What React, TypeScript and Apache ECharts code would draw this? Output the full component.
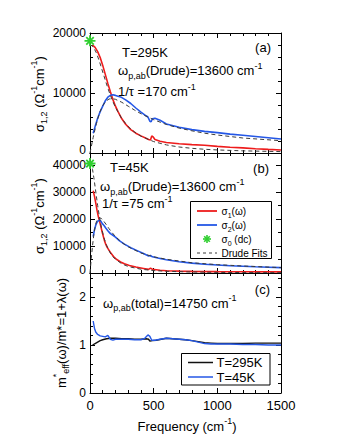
import React, { useEffect, useRef } from 'react';
import * as echarts from 'echarts';

const FONT = '"Liberation Sans", Arial, Helvetica, sans-serif';

// ---------- Panel (a): T = 295 K ----------
const aSig1Freq = [20, 40, 60, 80, 100, 120, 140, 160, 180, 200, 220, 250, 280, 320, 360, 400, 440, 460, 475, 485, 495, 510, 550, 600, 700, 800, 900, 1000, 1100, 1200, 1300, 1400, 1500];
const aSig1 = [18000, 17600, 16900, 15900, 14600, 13100, 11600, 10200, 8900, 7800, 6900, 5700, 4800, 3900, 3300, 2850, 2450, 2250, 2150, 2850, 2700, 2250, 1950, 1750, 1550, 1400, 1280, 1100, 950, 850, 720, 600, 500];
const aSig2Freq = [25, 40, 60, 80, 100, 120, 140, 160, 180, 200, 240, 280, 320, 360, 400, 440, 455, 470, 480, 490, 510, 550, 600, 700, 800, 900, 1000, 1100, 1200, 1300, 1400, 1500];
const aSig2 = [3300, 4400, 5800, 6900, 7800, 8700, 9300, 9600, 9700, 9600, 9350, 8850, 8250, 7500, 6800, 6200, 6000, 5300, 5200, 5700, 5800, 5450, 4850, 4300, 3900, 3600, 3400, 3150, 2950, 2750, 2550, 2330];
const aFitFreq = [0, 25, 50, 75, 100, 125, 150, 175, 200, 250, 300, 350, 400, 500, 600, 700, 800, 900, 1000, 1200, 1500];
const aFit1 = [18100, 17700, 16700, 15200, 13500, 11800, 10200, 8800, 7600, 5700, 4400, 3500, 2800, 1900, 1350, 1000, 780, 620, 510, 360, 230];
const aFit2 = [0, 2600, 4900, 6700, 7900, 8650, 9000, 9050, 8950, 8450, 7800, 7150, 6550, 5550, 4750, 4150, 3700, 3300, 3000, 2500, 2050];
const aDc = [[0, 18700]];

// ---------- Panel (b): T = 45 K ----------
const bSig1Freq = [25, 35, 45, 55, 65, 75, 85, 95, 105, 115, 125, 135, 150, 165, 185, 210, 240, 270, 310, 360, 420, 460, 475, 490, 550, 600, 700, 800, 1000, 1200, 1500];
const bSig1 = [30500, 28500, 26000, 23300, 21000, 19300, 17300, 15300, 13500, 11800, 10500, 9500, 8400, 7300, 6100, 5000, 4100, 3400, 2800, 2200, 1700, 1350, 1800, 1400, 1000, 850, 700, 600, 500, 450, 400];
const bSig2Freq = [25, 35, 45, 55, 65, 75, 85, 95, 110, 125, 140, 160, 180, 200, 230, 270, 320, 370, 420, 460, 475, 490, 550, 600, 700, 800, 900, 1000, 1100, 1200, 1300, 1400, 1500];
const bSig2 = [13500, 16000, 17700, 18800, 19400, 19600, 19200, 18400, 17600, 16600, 15700, 14600, 14000, 13300, 12000, 10700, 9400, 8300, 7200, 6300, 6500, 6000, 5400, 4900, 4200, 3650, 3250, 2950, 2700, 2500, 2300, 2150, 2000];
const bFitFreq = [0, 10, 20, 30, 40, 50, 60, 75, 90, 110, 130, 150, 175, 200, 250, 300, 400, 500, 600, 800, 1000, 1200, 1500];
const bFit1 = [41100, 40400, 38400, 35400, 32000, 28500, 25100, 20500, 16800, 13000, 10300, 8200, 6300, 5100, 3400, 2400, 1400, 900, 630, 360, 230, 160, 100];
const bFit2 = [0, 5400, 10200, 14200, 17100, 19000, 20000, 20500, 20200, 19100, 17800, 16400, 14900, 13500, 11300, 9700, 7400, 6000, 5100, 3800, 3100, 2600, 2000];
const bDc = [[0, 40600]];

// ---------- Panel (c): m*/m = 1 + lambda ----------
const c295Freq = [20, 40, 60, 80, 100, 130, 160, 200, 250, 300, 350, 400, 440, 460, 470, 490, 520, 560, 600, 650, 700, 750, 800, 850, 900, 950, 1000, 1100, 1200, 1300, 1400, 1500];
const c295 = [1.0, 1.03, 1.06, 1.09, 1.11, 1.13, 1.14, 1.14, 1.13, 1.13, 1.12, 1.12, 1.13, 1.12, 1.08, 1.09, 1.1, 1.12, 1.14, 1.13, 1.12, 1.11, 1.09, 1.07, 1.05, 1.04, 1.03, 1.03, 1.03, 1.04, 1.04, 1.04];
const c45Freq = [25, 35, 45, 60, 80, 100, 120, 140, 160, 180, 200, 250, 300, 350, 400, 430, 455, 470, 485, 510, 550, 600, 650, 700, 750, 800, 850, 900, 950, 1000, 1100, 1200, 1300, 1400, 1500];
const c45 = [1.5, 1.35, 1.27, 1.22, 1.19, 1.18, 1.17, 1.2, 1.12, 1.1, 1.12, 1.12, 1.12, 1.11, 1.11, 1.14, 1.21, 1.18, 1.1, 1.1, 1.12, 1.14, 1.13, 1.12, 1.11, 1.09, 1.06, 1.03, 1.02, 1.02, 1.02, 1.01, 1.01, 1.0, 1.0];

const RED = '#ee1c1c';
const BLUE = '#2457e6';
const GREEN = '#2fcf2f';
const DASH = '#3a3a3a';

const pairs = (xs: number[], ys: number[]) => xs.map((x, i) => [x, ys[i]]);

const STAR = 'path://M5,0L5,10M0,5L10,5M1.6,1.6L8.4,8.4M1.6,8.4L8.4,1.6';

const GRID_TOPS = [33, 153, 273];
const GRID_H = 120;

const plainNum = (v: number) => String(v);
// lift the "0" of the upper panels slightly so it does not collide with the next panel's top label
const liftedZero = (v: number) => (v === 0 ? '{z|0}' : String(v));

function xAxes(gridIndex: number, showLabels: boolean) {
  const common = {
    gridIndex,
    type: 'value',
    min: 0,
    max: 1500,
    interval: 500,
    axisLine: { show: true, onZero: false, lineStyle: { color: '#000', width: 1 } },
    axisTick: { show: true, inside: true, length: 5, lineStyle: { color: '#000' } },
    minorTick: { show: true, splitNumber: 5, length: 3, lineStyle: { color: '#000' } },
    splitLine: { show: false },
  };
  return [
    {
      ...common,
      position: 'bottom',
      axisLabel: { show: showLabels, fontSize: 13, color: '#000', fontFamily: FONT, margin: 6, formatter: plainNum },
    },
    { ...common, position: 'top', axisLabel: { show: false } },
  ];
}

function yAxes(gridIndex: number, max: number, interval: number, minorSplit: number, liftZero: boolean) {
  const common = {
    gridIndex,
    type: 'value',
    min: 0,
    max,
    interval,
    axisLine: { show: true, onZero: false, lineStyle: { color: '#000', width: 1 } },
    axisTick: { show: true, inside: true, length: 5, lineStyle: { color: '#000' } },
    minorTick: { show: true, splitNumber: minorSplit, length: 3, lineStyle: { color: '#000' } },
    splitLine: { show: false },
  };
  return [
    {
      ...common,
      position: 'left',
      axisLabel: {
        show: true,
        fontSize: 12,
        color: '#000',
        fontFamily: FONT,
        margin: 4,
        showMaxLabel: max % interval === 0,
        formatter: liftZero ? liftedZero : plainNum,
        rich: { z: { fontSize: 12, fontFamily: FONT, color: '#000', padding: [0, 0, 6, 0] } },
      },
    },
    { ...common, position: 'right', axisLabel: { show: false } },
  ];
}

function lineSeries(name: string, data: number[][], axis: number, color: string, width: number, dashed = false, z = 2) {
  return {
    name,
    type: 'line',
    xAxisIndex: axis,
    yAxisIndex: axis,
    data,
    symbol: 'none',
    showSymbol: false,
    smooth: false,
    z,
    lineStyle: { color, width, type: dashed ? [4, 3] : 'solid' },
    itemStyle: { color },
  };
}

function starSeries(data: number[][], axis: number) {
  return {
    type: 'scatter',
    xAxisIndex: axis,
    yAxisIndex: axis,
    data,
    clip: false,
    symbol: STAR,
    symbolSize: 11,
    z: 5,
    itemStyle: { color: 'none', borderColor: GREEN, borderWidth: 1.8, opacity: 1 },
  };
}

const mainRich = (size: number) => ({
  n: { fontSize: size, fontFamily: FONT, fill: '#000', lineHeight: size + 6 },
  s: { fontSize: Math.round(size * 0.68), fontFamily: FONT, fill: '#000', lineHeight: Math.round(size * 0.68), verticalAlign: 'bottom' },
  u: { fontSize: Math.round(size * 0.68), fontFamily: FONT, fill: '#000', lineHeight: Math.round(size * 0.68), verticalAlign: 'top' },
});

function txt(text: string, x: number, y: number, align: string = 'left', size = 13, rotation = 0) {
  return {
    type: 'text',
    x,
    y,
    rotation,
    z: 100,
    style: {
      text,
      rich: mainRich(size),
      fontSize: size,
      fontFamily: FONT,
      fill: '#000',
      align,
      verticalAlign: 'middle',
    },
  };
}

function seg(x1: number, y1: number, x2: number, y2: number, color: string, width: number, dash?: number[]) {
  return {
    type: 'line',
    z: 101,
    shape: { x1, y1, x2, y2 },
    style: { stroke: color, lineWidth: width, lineDash: dash },
  };
}

function starLines(cx: number, cy: number, r: number) {
  const d = r * 0.7;
  return [
    seg(cx, cy - r, cx, cy + r, GREEN, 1.6),
    seg(cx - r, cy, cx + r, cy, GREEN, 1.6),
    seg(cx - d, cy - d, cx + d, cy + d, GREEN, 1.6),
    seg(cx - d, cy + d, cx + d, cy - d, GREEN, 1.6),
  ];
}

export default function App() {
  const ref = useRef<HTMLDivElement>(null);

  useEffect(() => {
    if (!ref.current) return;
    const chart = echarts.init(ref.current, undefined, { renderer: 'svg' });

    const option = {
      animation: false,
      backgroundColor: '#fff',
      grid: GRID_TOPS.map((top) => ({ left: 90, width: 191, top, height: GRID_H, containLabel: false })),
      xAxis: [...xAxes(0, false), ...xAxes(1, false), ...xAxes(2, true)],
      yAxis: [...yAxes(0, 20000, 10000, 5, true), ...yAxes(1, 44500, 10000, 2, true), ...yAxes(2, 2.5, 1, 5, false)],
      series: [
        // panel a (axes index 0)
        lineSeries('σ1 295K', pairs(aSig1Freq, aSig1), 0, RED, 1.6),
        lineSeries('σ2 295K', pairs(aSig2Freq, aSig2), 0, BLUE, 1.6),
        lineSeries('Drude σ1 295K', pairs(aFitFreq, aFit1), 0, DASH, 1, true, 3),
        lineSeries('Drude σ2 295K', pairs(aFitFreq, aFit2), 0, DASH, 1, true, 3),
        starSeries(aDc, 0),
        // panel b (axes index 2)
        lineSeries('σ1 45K', pairs(bSig1Freq, bSig1), 2, RED, 1.6),
        lineSeries('σ2 45K', pairs(bSig2Freq, bSig2), 2, BLUE, 1.6),
        lineSeries('Drude σ1 45K', pairs(bFitFreq, bFit1), 2, DASH, 1, true, 3),
        lineSeries('Drude σ2 45K', pairs(bFitFreq, bFit2), 2, DASH, 1, true, 3),
        starSeries(bDc, 2),
        // panel c (axes index 4)
        lineSeries('T=295K', pairs(c295Freq, c295), 4, '#111', 1.4),
        lineSeries('T=45K', pairs(c45Freq, c45), 4, BLUE, 1.4),
      ],
      graphic: [
        // panel a annotations
        txt('{n|T=295K}', 122, 52.5),
        txt('{n|ω}{s|p,ab}{n|(Drude)=13600 cm}{u|-1}', 118, 70.5),
        txt('{n|1/τ =170 cm}{u|-1}', 118, 91.5),
        txt('{n|(a)}', 271, 47, 'right'),
        // panel b annotations
        txt('{n|T=45K}', 110, 167.5),
        txt('{n|(b)}', 269, 168, 'right'),
        txt('{n|ω}{s|p,ab}{n|(Drude)=13600 cm}{u|-1}', 100, 186.5),
        txt('{n|1/τ =75 cm}{u|-1}', 102, 203.5),
        // panel b legend
        {
          type: 'rect',
          z: 99,
          shape: { x: 190.5, y: 201.5, width: 81, height: 57 },
          style: { fill: '#fff', stroke: '#000', lineWidth: 1 },
        },
        seg(197, 211, 217, 211, RED, 1.8),
        txt('{n|σ}{s|1}{n|(ω)}', 221.5, 211, 'left', 10),
        seg(197, 225, 217, 225, BLUE, 1.8),
        txt('{n|σ}{s|2}{n|(ω)}', 221.5, 225, 'left', 10),
        ...starLines(207, 239, 4),
        txt('{n|σ}{s|0}{n| (dc)}', 221.5, 239, 'left', 10),
        seg(197, 253, 217, 253, DASH, 1, [3, 3]),
        txt('{n|Drude Fits}', 221.5, 253, 'left', 10),
        // panel c annotations
        txt('{n|(c)}', 270, 289.5, 'right'),
        txt('{n|ω}{s|p,ab}{n|(total)=14750 cm}{u|-1}', 103, 303),
        {
          type: 'rect',
          z: 99,
          shape: { x: 181.5, y: 353.5, width: 88.5, height: 31.5 },
          style: { fill: '#fff', stroke: '#000', lineWidth: 1 },
        },
        seg(188, 362.5, 213, 362.5, '#111', 1.5),
        txt('{n|T=295K}', 216.5, 362.5),
        seg(188, 377, 213, 377, BLUE, 1.5),
        txt('{n|T=45K}', 216.5, 377),
        // axis titles
        txt('{n|σ}{s|1,2}{n| (Ω}{u|-1}{n|cm}{u|-1}{n|)}', 39, 94, 'center', 13, Math.PI / 2),
        txt('{n|σ}{s|1,2}{n| (Ω}{u|-1}{n|cm}{u|-1}{n|)}', 39, 216, 'center', 13, Math.PI / 2),
        txt('{n|m}{u|*}{s|eff}{n|(ω)/m*=1+λ(ω)}', 61, 333, 'center', 13, Math.PI / 2),
        txt('{n|Frequency (cm}{u|-1}{n|)}', 187, 426, 'center'),
      ],
    };

    chart.setOption(option as any);
    return () => {
      chart.dispose();
    };
  }, []);

  return (
    <div
      ref={ref}
      style={{ position: 'fixed', left: 0, top: 0, width: 341, height: 441, background: '#fff' }}
    />
  );
}
